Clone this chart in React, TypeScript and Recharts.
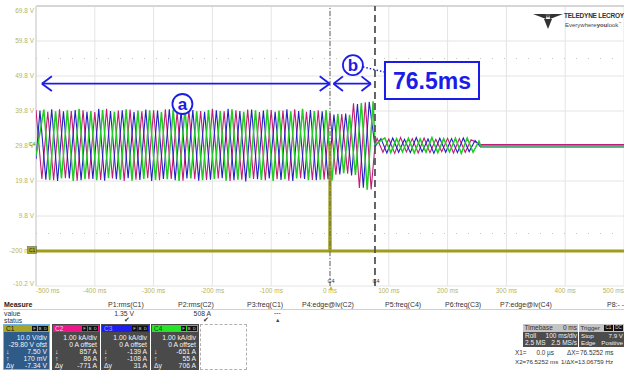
import React from 'react';
import { LineChart, Line, XAxis, YAxis, CartesianGrid, ReferenceLine, ReferenceDot, ReferenceArea } from 'recharts';

const FONT = '"Liberation Sans", Arial, Helvetica, sans-serif';
const TICK_COLOR = '#b8b55c';

// ---- axes ----
const timeTicksMs = [-500, -400, -300, -200, -100, 0, 100, 200, 300, 400, 500];
const timeTickLabels = ['-500 ms', '-400 ms', '-300 ms', '-200 ms', '-100 ms', '0 ms', '100 ms', '200 ms', '300 ms', '400 ms', '500 ms'];
const voltTicks = [69.8, 59.8, 49.8, 39.8, 29.8, 19.8, 9.8, -0.2, -10.2];
const voltTickLabels = ['69.8 V', '59.8 V', '49.8 V', '39.8 V', '29.8 V', '19.8 V', '9.8 V', '-200 mV', '-10.2 V'];

// ---- event / cursors ----
const cursorX1Ms = 0;
const cursorX2Ms = 76.5;
const flatFromMs = 256;

// extremum instants (C2 reference phase)
const preExtremaMs = [
  -500, -490, -480, -470, -460, -450, -440, -430, -420, -410,
  -400, -390, -380, -370, -360, -350, -340, -330, -320, -310,
  -300, -290, -280, -270, -260, -250, -240, -230, -220, -210,
  -200, -190, -180, -170, -160, -150, -140, -130, -120, -110,
  -100, -90, -80, -70, -60, -50, -40, -30, -20, -10,
  0, 10, 20, 30, 40, 50, 60, 70,
];
const postExtremaMs = [80, 90, 100, 110, 120, 130, 140, 150, 160, 170, 180, 190, 200, 210, 220, 230, 240];

// phase lags of C3 / C4 relative to C2 (ms)
const phaseLagMs = { C2: 0, C3: 6.7, C4: 13.3 };
const startValues = { C2: 40.1, C3: 26.0, C4: 27.0 };
const cutValues = { C2: 30.0, C3: 29.6, C4: 30.2 };
const flatValues = { C2: 30.2, C3: 29.5, C4: 29.85 };

const c2Pre = [
  40.1, 20.4, 39.6, 20.0, 40.3, 20.6, 39.8, 19.9, 40.0, 20.3,
  39.5, 20.1, 40.4, 20.5, 39.9, 19.8, 40.2, 20.2, 39.7, 20.6,
  40.0, 20.0, 40.3, 20.4, 39.6, 19.9, 40.1, 20.3, 39.8, 20.1,
  40.4, 20.5, 39.7, 19.8, 40.0, 20.2, 40.2, 20.4, 39.5, 20.0,
  40.1, 20.3, 39.9, 19.9, 40.3, 20.6, 39.6, 20.1, 40.0, 20.2,
  39.2, 21.6, 38.9, 21.9, 42.0, 17.8, 42.3, 17.4,
];
const c3Pre = [
  39.9, 20.2, 40.3, 19.8, 39.7, 20.5, 40.1, 20.0, 39.6, 20.4,
  40.4, 19.9, 39.8, 20.3, 40.0, 20.6, 39.5, 20.1, 40.2, 19.8,
  39.9, 20.4, 40.3, 20.0, 39.7, 20.5, 40.1, 19.9, 39.6, 20.2,
  40.0, 20.6, 40.4, 20.0, 39.8, 19.7, 40.2, 20.3, 39.9, 20.5,
  39.6, 20.1, 40.3, 19.8, 39.8, 20.4, 40.1, 20.0, 39.7, 20.3,
  38.8, 21.7, 39.1, 21.4, 41.8, 17.9, 42.4, 17.6,
];
const c4Pre = [
  40.2, 20.1, 39.7, 20.5, 40.0, 19.8, 40.4, 20.3, 39.8, 20.0,
  40.1, 20.6, 39.6, 20.2, 40.3, 19.9, 39.9, 20.4, 40.0, 20.1,
  39.5, 20.3, 40.2, 19.8, 40.4, 20.5, 39.7, 20.0, 40.1, 20.4,
  39.8, 19.9, 40.3, 20.2, 39.6, 20.6, 40.0, 20.1, 40.2, 19.8,
  39.9, 20.3, 39.7, 20.5, 40.4, 20.0, 39.8, 20.2, 40.1, 19.9,
  39.0, 22.0, 38.7, 21.5, 42.1, 17.3, 42.6, 17.7,
];
const c2Post = [32.0, 28.0, 31.8, 27.7, 32.2, 28.1, 31.9, 27.8, 32.1, 27.9, 31.7, 28.2, 32.0, 27.8, 31.9, 28.0, 31.6];
const c3Post = [31.9, 27.8, 32.1, 28.0, 31.7, 27.9, 32.2, 28.1, 31.8, 27.7, 32.0, 28.0, 31.9, 27.9, 32.1, 28.2, 31.4];
const c4Post = [32.1, 27.9, 31.9, 28.1, 32.0, 27.8, 31.8, 28.0, 32.2, 27.9, 31.9, 28.1, 32.0, 27.7, 32.1, 28.0, 31.2];

// C1 (voltage probe) : flat with a trigger glitch at 0 ms
const c1TimesMs = [-500, -0.4, 0, 0.4, 500];
const c1Values = [-0.2, -0.2, 30.5, -0.2, -0.2];

type Pt = { t: number; v: number };

function buildPhase(lag: number, start: number, pre: number[], post: number[], cut: number, flat: number): Pt[] {
  const pts: Pt[] = [{ t: -500, v: start }];
  preExtremaMs.forEach((t, i) => {
    const ts = t + lag;
    if (ts > -500 && ts < cursorX2Ms) pts.push({ t: ts, v: pre[i] });
  });
  pts.push({ t: cursorX2Ms, v: cut });
  postExtremaMs.forEach((t, i) => pts.push({ t: t + lag, v: post[i] }));
  pts.push({ t: flatFromMs, v: flat }, { t: 500, v: flat });
  return pts;
}

const c2Data = buildPhase(phaseLagMs.C2, startValues.C2, c2Pre, c2Post, cutValues.C2, flatValues.C2);
const c3Data = buildPhase(phaseLagMs.C3, startValues.C3, c3Pre, c3Post, cutValues.C3, flatValues.C3);
const c4Data = buildPhase(phaseLagMs.C4, startValues.C4, c4Pre, c4Post, cutValues.C4, flatValues.C4);
const c1Data: Pt[] = c1TimesMs.map((t, i) => ({ t, v: c1Values[i] }));

// ---- panel texts ----
const measureHeaders: [string, number][] = [
  ['P1:rms(C1)', 108], ['P2:rms(C2)', 178], ['P3:freq(C1)', 247], ['P4:edge@lv(C2)', 302],
  ['P5:freq(C4)', 385], ['P6:freq(C3)', 445], ['P7:edge@lv(C4)', 500], ['P8:- -', 607],
];
const channelBoxes = [
  { name: 'C1', left: 3, width: 47, head: '#a8a52a', headText: '#1a1a00', body: '#2f5b88', border: '#74b6ea',
    lines: [['', '10.0 V/div'], ['', '-29.80 V ofst'], ['↓', '7.50 V'], ['↑', '170 mV'], ['Δy', '-7.34 V']] },
  { name: 'C2', left: 52, width: 48, head: '#ee168a', headText: '#ffd0e8', body: '#4a4a4a', border: '#4a4a4a',
    lines: [['', '1.00 kA/div'], ['', '0 A offset'], ['↓', '857 A'], ['↑', '86 A'], ['Δy', '-771 A']] },
  { name: 'C3', left: 101, width: 49, head: '#1e1ef0', headText: '#9fa0ff', body: '#4a4a4a', border: '#4a4a4a',
    lines: [['', '1.00 kA/div'], ['', '0 A offset'], ['↓', '-139 A'], ['↑', '-108 A'], ['Δy', '31 A']] },
  { name: 'C4', left: 151, width: 48, head: '#28e428', headText: '#0c4a0c', body: '#4a4a4a', border: '#4a4a4a',
    lines: [['', '1.00 kA/div'], ['', '0 A offset'], ['↓', '-651 A'], ['↑', '55 A'], ['Δy', '706 A']] },
];

const TimeTick = (props: any) => {
  const { x, y, payload } = props;
  const idx = timeTicksMs.indexOf(payload.value);
  const anchor = idx === 0 ? 'start' : idx === timeTicksMs.length - 1 ? 'end' : 'middle';
  return (
    <text x={x} y={y} dy={5} textAnchor={anchor} fontSize={6.5} fill={TICK_COLOR} fontFamily={FONT}>
      {timeTickLabels[idx]}
    </text>
  );
};

const VoltTick = (props: any) => {
  const { x, y, payload } = props;
  const idx = voltTicks.indexOf(payload.value);
  const dy = idx === 0 ? 6.5 : idx === voltTicks.length - 1 ? -0.5 : 2.3;
  return (
    <text x={x} y={y} dy={dy} textAnchor="end" fontSize={6.5} fill={TICK_COLOR} fontFamily={FONT}>
      {voltTickLabels[idx]}
    </text>
  );
};

const BLUE = '#1c1ce8';

const circleShape = (letter: string) => (p: any) => (
  <g>
    <circle cx={p.cx} cy={p.cy} r={10} fill="#fff" stroke={BLUE} strokeWidth={1.8} />
    <text x={p.cx} y={p.cy} dy={5.5} textAnchor="middle" fontSize={17} fontWeight="bold" fill={BLUE} fontFamily={FONT}>
      {letter}
    </text>
  </g>
);

const T = ({ x, y, children, size = 7, color = '#222', bold = false, right }: any) => (
  <div
    style={{
      position: 'absolute',
      left: right !== undefined ? undefined : x,
      right: right !== undefined ? 624 - right : undefined,
      top: y,
      fontSize: size,
      lineHeight: `${size + 1}px`,
      color,
      fontWeight: bold ? 700 : 400,
      whiteSpace: 'nowrap',
    }}
  >
    {children}
  </div>
);

const Icon = ({ ch }: { ch: string }) => (
  <span style={{ display: 'inline-block', width: 5, height: 5, background: '#111', color: '#ddd', fontSize: 4, lineHeight: '5px', textAlign: 'center', marginLeft: 0.5 }}>{ch}</span>
);

export default function App() {
  const lineTops = [2.5, 9.5, 17, 24, 31];
  return (
    <div style={{ position: 'absolute', left: 0, top: 0, width: 624, height: 372, background: '#fff', overflow: 'hidden', fontFamily: FONT }}>
      <div style={{ position: 'absolute', left: 0, top: 0 }}>
        <LineChart width={624} height={300} margin={{ top: 6, right: 0, bottom: 0, left: 0 }}>
          <CartesianGrid stroke="#e4e4e4" strokeWidth={1} />
          <XAxis
            type="number"
            dataKey="t"
            domain={[-500, 500]}
            ticks={timeTicksMs}
            interval={0}
            allowDataOverflow
            axisLine={false}
            tickLine={false}
            tickSize={0}
            height={14}
            tick={TimeTick}
          />
          <YAxis
            type="number"
            dataKey="v"
            domain={[-10.2, 69.8]}
            ticks={voltTicks}
            interval={0}
            allowDataOverflow
            axisLine={false}
            tickLine={false}
            tickSize={0}
            width={36}
            tick={VoltTick}
          />
          <ReferenceLine y={69.8} stroke="#d6d6d6" strokeWidth={2} />
          <ReferenceLine x={-500} stroke="#dadada" strokeWidth={1.5} />
          <ReferenceLine y={54.8} stroke="#c4c4c4" strokeDasharray="1 11" />
          <ReferenceLine y={4.8} stroke="#c4c4c4" strokeDasharray="1 11" />

          <Line data={c2Data} dataKey="v" type="linear" stroke="#c21c76" strokeWidth={1.1} dot={false} activeDot={false} isAnimationActive={false} />
          <Line data={c3Data} dataKey="v" type="linear" stroke="#2222c4" strokeWidth={1.1} dot={false} activeDot={false} isAnimationActive={false} />
          <Line data={c4Data} dataKey="v" type="linear" stroke="#22cc22" strokeWidth={1.5} dot={false} activeDot={false} isAnimationActive={false} />
          <Line data={c1Data} dataKey="v" type="linear" stroke="#a09c1c" strokeWidth={3} dot={false} activeDot={false} isAnimationActive={false} />

          <ReferenceLine x={cursorX1Ms} stroke="#666" strokeWidth={1} strokeDasharray="5 2 1 2" />
          <ReferenceLine x={cursorX2Ms} stroke="#555" strokeWidth={1.8} strokeDasharray="7 4" />

          {/* annotation arrows */}
          <ReferenceLine segment={[{ x: -490, y: 47.6 }, { x: -0.5, y: 47.6 }]} stroke={BLUE} strokeWidth={1.8} />
          <ReferenceLine segment={[{ x: -473, y: 49.7 }, { x: -490, y: 47.6 }]} stroke={BLUE} strokeWidth={1.8} />
          <ReferenceLine segment={[{ x: -490, y: 47.6 }, { x: -473, y: 45.5 }]} stroke={BLUE} strokeWidth={1.8} />
          <ReferenceLine segment={[{ x: -17.5, y: 49.7 }, { x: -0.5, y: 47.6 }]} stroke={BLUE} strokeWidth={1.8} />
          <ReferenceLine segment={[{ x: -0.5, y: 47.6 }, { x: -17.5, y: 45.5 }]} stroke={BLUE} strokeWidth={1.8} />

          <ReferenceLine segment={[{ x: 6, y: 47.6 }, { x: 69.5, y: 47.6 }]} stroke={BLUE} strokeWidth={1.8} />
          <ReferenceLine segment={[{ x: 22, y: 49.7 }, { x: 6, y: 47.6 }]} stroke={BLUE} strokeWidth={1.8} />
          <ReferenceLine segment={[{ x: 6, y: 47.6 }, { x: 22, y: 45.5 }]} stroke={BLUE} strokeWidth={1.8} />
          <ReferenceLine segment={[{ x: 53.5, y: 49.7 }, { x: 69.5, y: 47.6 }]} stroke={BLUE} strokeWidth={1.8} />
          <ReferenceLine segment={[{ x: 69.5, y: 47.6 }, { x: 53.5, y: 45.5 }]} stroke={BLUE} strokeWidth={1.8} />

          <ReferenceLine segment={[{ x: 56, y: 52.4 }, { x: 93.5, y: 50.9 }]} stroke={BLUE} strokeWidth={1.5} strokeDasharray="1.5 2" />

          <ReferenceArea
            x1={93.5}
            x2={253.4}
            y1={43.2}
            y2={53.8}
            fill="#ffffff"
            fillOpacity={1}
            stroke={BLUE}
            strokeWidth={2}
            label={{ value: '76.5ms', position: 'center', fill: BLUE, fontSize: 23, fontWeight: 'bold', fontFamily: FONT }}
          />
          <ReferenceDot x={-251} y={41.8} r={10} shape={circleShape('a')} />
          <ReferenceDot x={39} y={52.9} r={10} shape={circleShape('b')} />
        </LineChart>
      </div>

      {/* logo */}
      <svg style={{ position: 'absolute', left: 532, top: 12 }} width={34} height={18}>
        <polygon points="1,2 15,2 14,7" fill="#333" />
        <polygon points="17,2 31,2 18,7" fill="#333" />
        <polygon points="12,7 20,7 16,17" fill="#333" />
        <polygon points="13,2 19,2 16,6" fill="#555" />
      </svg>
      <T x={564} y={12} size={6.5} bold color="#333"><span style={{ letterSpacing: -0.25 }}>TELEDYNE LECROY</span></T>
      <T x={565} y={19.5} size={6} color="#444">Everywhere<b>you</b>look<sup style={{ fontSize: 3 }}>™</sup></T>

      {/* channel tags on the left edge (drawn as small boxes like the scope) */}
      <svg style={{ position: 'absolute', left: 28, top: 140 }} width={9} height={7}>
        <text x={0.5} y={5.5} fontSize={5.5} fill="#22aa22" fontFamily={FONT}>C4</text>
      </svg>
      <svg style={{ position: 'absolute', left: 27, top: 246 }} width={10} height={8}>
        <rect x={0.5} y={0.5} width={9} height={7} fill="#a8a52a" stroke="#555" strokeWidth={0.5} />
        <text x={5} y={6} fontSize={4.8} textAnchor="middle" fill="#222" fontFamily={FONT}>C1</text>
      </svg>

      {/* cursor tags at the bottom */}
      <T x={327.5} y={278} size={5.5} color="#333">C4</T>
      <T x={372.5} y={278} size={5.5} color="#333">C4</T>
      <div style={{ position: 'absolute', left: 329, top: 286, width: 0, height: 0, borderLeft: '2.5px solid transparent', borderRight: '2.5px solid transparent', borderBottom: '4px solid #c8c020' }} />

      {/* measure table */}
      <T x={4} y={300.5} size={7} bold color="#222">Measure</T>
      {measureHeaders.map(([h, x]) => (
        <T key={h} x={x} y={300.5} size={7} color="#333">{h}</T>
      ))}
      <div style={{ position: 'absolute', left: 3, top: 309, width: 621, height: 1, background: '#d0d0d0' }} />
      <T x={4} y={309.5} size={6.8} color="#333">value</T>
      <T right={134} y={309.5} size={6.8} color="#333">1.35 V</T>
      <T right={211} y={309.5} size={6.8} color="#333">508 A</T>
      <T x={274} y={309} size={6.8} color="#333">---</T>
      <T x={4} y={316.5} size={6.8} color="#333">status</T>
      <T x={124} y={316} size={6.5} color="#333">✔</T>
      <T x={203} y={316} size={6.5} color="#333">✔</T>
      <T x={275} y={316.5} size={5.5} color="#444">▲</T>

      {channelBoxes.map((b) => (
        <div key={b.name} style={{ position: 'absolute', left: b.left, top: 324, width: b.width, height: 46, boxSizing: 'border-box', border: `1px solid ${b.border}`, background: b.body }}>
          <div style={{ position: 'absolute', left: 0, top: 0, width: '100%', height: 7, background: b.head }}>
            <span style={{ position: 'absolute', left: 2, top: 0, fontSize: 6.5, lineHeight: '7px', color: b.headText }}>{b.name}</span>
            <span style={{ position: 'absolute', right: 1, top: 1, lineHeight: '5px', fontSize: 0 }}>
              <Icon ch="F" /><Icon ch="B" /><Icon ch="D" />
            </span>
          </div>
          {b.lines.map(([l, r], i) => (
            <div key={i} style={{ position: 'absolute', left: 0, top: 6 + lineTops[i], width: '100%', height: 7, fontSize: 6.8, lineHeight: '7px', color: '#f4f4f4' }}>
              <span style={{ position: 'absolute', left: 2 }}>{l}</span>
              <span style={{ position: 'absolute', right: 2 }}>{r}</span>
            </div>
          ))}
        </div>
      ))}
      <div style={{ position: 'absolute', left: 200, top: 324, width: 47, height: 46, boxSizing: 'border-box', border: '1px dashed #b0b0b0' }} />

      {/* timebase / trigger */}
      <div style={{ position: 'absolute', left: 523, top: 324, width: 55, height: 23, background: '#4c4c4c', fontSize: 6.5, color: '#f0f0f0' }}>
        <div style={{ position: 'absolute', left: 0, top: 0, width: 55, height: 7.5, background: '#c4c4c4', color: '#333' }}>
          <span style={{ position: 'absolute', left: 1.5, lineHeight: '7.5px' }}>Timebase</span>
          <span style={{ position: 'absolute', right: 1, lineHeight: '7.5px' }}>0 ms</span>
        </div>
        <span style={{ position: 'absolute', left: 2, top: 8, lineHeight: '7px' }}>Roll</span>
        <span style={{ position: 'absolute', right: 1, top: 8, lineHeight: '7px' }}>100 ms/div</span>
        <span style={{ position: 'absolute', left: 2, top: 15, lineHeight: '7px' }}>2.5 MS</span>
        <span style={{ position: 'absolute', right: 1, top: 15, lineHeight: '7px' }}>2.5 MS/s</span>
      </div>
      <div style={{ position: 'absolute', left: 579, top: 324, width: 45, height: 23, background: '#4c4c4c', fontSize: 6.2, color: '#f0f0f0', overflow: 'hidden' }}>
        <div style={{ position: 'absolute', left: 0, top: 0, width: 45, height: 7.5, background: '#c4c4c4', color: '#333' }}>
          <span style={{ position: 'absolute', left: 1.5, lineHeight: '7.5px' }}>Trigger</span>
          <span style={{ position: 'absolute', left: 25, top: 1, width: 9, height: 5.5, background: '#111', color: '#ddd', fontSize: 4.5, lineHeight: '5.5px', textAlign: 'center' }}>C1</span>
          <span style={{ position: 'absolute', left: 35, top: 1, width: 9, height: 5.5, background: '#111', color: '#ddd', fontSize: 4.5, lineHeight: '5.5px', textAlign: 'center' }}>DC</span>
        </div>
        <span style={{ position: 'absolute', left: 2, top: 8, lineHeight: '7px' }}>Stop</span>
        <span style={{ position: 'absolute', right: 1, top: 8, lineHeight: '7px', whiteSpace: 'nowrap' }}>7.9 V</span>
        <span style={{ position: 'absolute', left: 2, top: 15, lineHeight: '7px' }}>Edge</span>
        <span style={{ position: 'absolute', right: 1, top: 15, lineHeight: '7px', whiteSpace: 'nowrap' }}>Positive</span>
      </div>

      <T x={515} y={349} size={6.4} color="#333">X1=</T>
      <T right={554} y={349} size={6.4} color="#333">0.0 µs</T>
      <T x={567} y={349} size={6.4} color="#333">ΔX=</T>
      <T x={580} y={349} size={6.4} color="#333">76.5252 ms</T>
      <T x={515} y={358} size={6.2} color="#333">X2=</T>
      <T x={526} y={358} size={6.2} color="#333">76.5252 ms</T>
      <T x={561} y={358} size={6.2} color="#333">1/ΔX=</T>
      <T x={578} y={358} size={6.2} color="#333">13.06759 Hz</T>
    </div>
  );
}
